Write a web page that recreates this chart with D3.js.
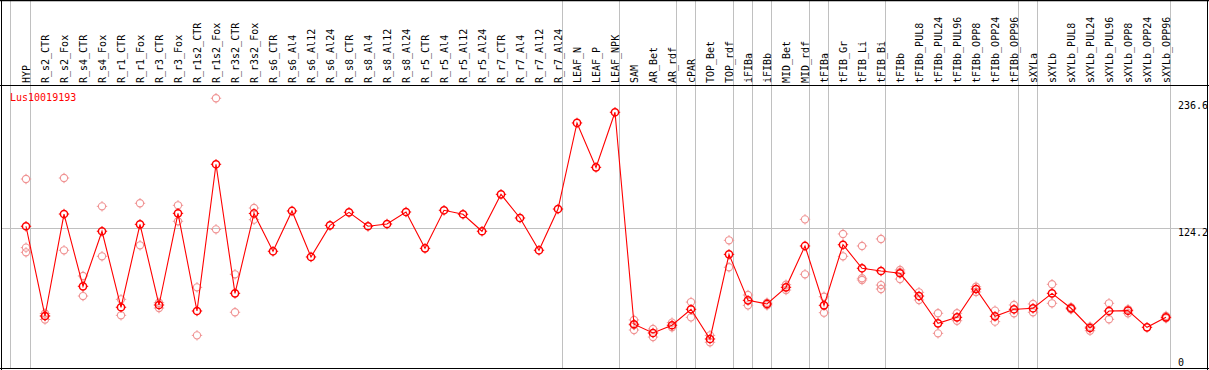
<!DOCTYPE html>
<html>
<head>
<meta charset="utf-8">
<script src="https://cdn.jsdelivr.net/npm/d3@7"></script>
<style>
  html, body { margin: 0; padding: 0; background: #fff; }
  svg { display: block; }
  text { font-family: "DejaVu Sans Mono", "Liberation Mono", monospace; font-size: 10px; }
</style>
</head>
<body>
<svg id="chart" width="1209" height="370"></svg>
<script>
// ---- data ----
const seriesName = "Lus10019193";

const categories = [
  "HYP","R_s2_CTR","R_s2_Fox","R_s4_CTR","R_s4_Fox","R_r1_CTR","R_r1_Fox","R_r3_CTR","R_r3_Fox",
  "R_r1s2_CTR","R_r1s2_Fox","R_r3s2_CTR","R_r3s2_Fox","R_s6_CTR","R_s6_Al4","R_s6_Al12","R_s6_Al24",
  "R_s8_CTR","R_s8_Al4","R_s8_Al12","R_s8_Al24","R_r5_CTR","R_r5_Al4","R_r5_Al12","R_r5_Al24",
  "R_r7_CTR","R_r7_Al4","R_r7_Al12","R_r7_Al24","LEAF_N","LEAF_P","LEAF_NPK","SAM","AR_Bet","AR_rdf",
  "cPAR","TOP_Bet","TOP_rdf","iFIBa","iFIBb","MID_Bet","MID_rdf","tFIBa","tFIB_Gr","tFIB_Li","tFIB_Bi",
  "tFIBb","tFIBb_PUL8","tFIBb_PUL24","tFIBb_PUL96","tFIBb_OPP8","tFIBb_OPP24","tFIBb_OPP96",
  "sXYLa","sXYLb","sXYLb_PUL8","sXYLb_PUL24","sXYLb_PUL96","sXYLb_OPP8","sXYLb_OPP24","sXYLb_OPP96"
];

const meanValues = [
  126.0, 46.8, 136.8, 73.0, 121.6, 54.5, 127.7, 56.5, 137.4,
  51.2, 180.7, 66.8, 137.3, 103.9, 139.5, 98.9, 126.8,
  138.3, 126.0, 128.0, 138.6, 106.5, 140.1, 136.6, 121.6,
  154.2, 133.3, 104.8, 141.2, 217.2, 178.0, 226.6, 39.5, 31.8, 38.6,
  52.7, 26.5, 101.2, 60.6, 57.4, 72.1, 108.6, 56.2, 109.7, 88.9, 86.5,
  84.5, 64.4, 40.3, 45.6, 70.6, 46.5, 52.7,
  53.6, 66.8, 53.6, 36.2, 51.2, 51.5, 36.8, 45.6
];

const replicateValues = [
  [167.7, 107.1, 103.0], [49.0, 46.8, 43.7], [168.6, 104.8], [82.1, 64.4], [143.6, 99.5],
  [61.5, 47.4], [146.3, 109.2], [58.5, 53.8], [144.5, 130.4], [72.1, 29.7],
  [239.0, 123.3], [83.6, 50.1], [142.1, 131.8], [], [], [], [],
  [], [], [], [], [], [], [], [],
  [], [], [], [], [], [], [], [43.3, 38.8, 34.4], [35.3, 28.2], [40.9, 36.8],
  [59.1, 45.6], [29.7, 23.6], [113.6, 89.8], [65.3, 56.2], [58.5, 56.2], [74.4, 69.7], [132.1, 83.6],
  [63.8, 49.7], [119.2, 99.5], [108.6, 80.1, 78.6], [114.8, 74.1, 70.6],
  [87.4, 85.6, 79.4], [67.7, 60.9], [49.2, 31.5], [49.2, 42.6], [72.6, 68.0], [51.5, 41.8], [56.5, 49.2],
  [57.4, 50.1], [74.8, 58.0], [54.5, 52.7], [37.3, 33.8], [58.0, 43.9], [52.7, 49.2], [], [46.8, 44.8]
];

// groups end after these categories (vertical separators)
const groupEnds = ["HYP","R_r7_Al24","LEAF_NPK","AR_rdf","cPAR","TOP_rdf","iFIBa","iFIBb",
  "MID_rdf","tFIBa","tFIB_Bi","tFIBb_OPP96","sXYLa","sXYLb_OPP96"];

const yDomainMax = 248.4;
const yTickValues = [236.6, 124.2, 0];
const gridValue = 124.2;

// ---- layout ----
const W = 1209, H = 370;
const headerBottom = 85.5;
const plotBottom = 368.5;
const svg = d3.select("#chart");

const x = d3.scalePoint().domain(categories).range([26, 1166]);
const y = d3.scaleLinear().domain([0, yDomainMax]).range([369, 87.6]);

const gridGray = "#c0c0c0";
const red = "#ff0000";
const pink = "#f09494";

// vertical group separators
const sepX = [x(categories[0]) - 15.5].concat(groupEnds.map(c => Math.round(x(c) + 4) + 0.5));
svg.append("g").selectAll("line").data(sepX).join("line")
  .attr("x1", d => d).attr("x2", d => d)
  .attr("y1", 0).attr("y2", plotBottom)
  .attr("stroke", gridGray).attr("stroke-width", 1);

// horizontal grid line
svg.append("line")
  .attr("x1", 1).attr("x2", 1208)
  .attr("y1", Math.round(y(gridValue)) + 0.5).attr("y2", Math.round(y(gridValue)) + 0.5)
  .attr("stroke", gridGray).attr("stroke-width", 1);

// frame
const frame = svg.append("g").attr("stroke", "#000").attr("fill", "none");
frame.append("line").attr("x1", 0).attr("x2", 1209).attr("y1", 0.5).attr("y2", 0.5).attr("stroke-width", 1.5);
frame.append("line").attr("x1", 0).attr("x2", 1209).attr("y1", headerBottom).attr("y2", headerBottom);
frame.append("line").attr("x1", 0).attr("x2", 1209).attr("y1", plotBottom).attr("y2", plotBottom);
frame.append("line").attr("x1", 1.5).attr("x2", 1.5).attr("y1", 0).attr("y2", 370);
frame.append("line").attr("x1", 1207.5).attr("x2", 1207.5).attr("y1", 0).attr("y2", 370);

// category labels (rotated)
svg.append("g").selectAll("text").data(categories).join("text")
  .attr("transform", d => `translate(${x(d) + 3.5},83) rotate(-90)`)
  .attr("text-anchor", "start")
  .attr("fill", "#000")
  .text(d => d);

// y tick labels on right
svg.append("g").selectAll("text").data(yTickValues).join("text")
  .attr("x", 1178)
  .attr("y", d => Math.min(y(d) + 8, 366))
  .attr("fill", "#000")
  .text(d => d === 0 ? "0" : d.toFixed(1));

// series name
svg.append("text").attr("x", 10).attr("y", 100.5).attr("fill", red).text(seriesName);

// marker helper: circle with little ticks
function marker(g, cx, cy, color, sw, r) {
  g.append("circle").attr("cx", cx).attr("cy", cy).attr("r", r)
    .attr("fill", "none").attr("stroke", color).attr("stroke-width", sw);
  const t1 = r, t2 = r + 1.6;
  g.append("path")
    .attr("d", `M${cx},${cy - t1}V${cy - t2}M${cx},${cy + t1}V${cy + t2}M${cx - t1},${cy}H${cx - t2}M${cx + t1},${cy}H${cx + t2}`)
    .attr("stroke", color).attr("stroke-width", 1).attr("fill", "none");
}

// replicates
const repG = svg.append("g");
categories.forEach((c, i) => {
  replicateValues[i].forEach(v => marker(repG, x(c), y(v), pink, 1.1, 3.6));
});

// mean line
const line = d3.line().x((d, i) => x(categories[i])).y(d => y(d));
svg.append("path").datum(meanValues)
  .attr("d", line).attr("fill", "none").attr("stroke", red).attr("stroke-width", 1.1);

// mean markers
const meanG = svg.append("g");
categories.forEach((c, i) => marker(meanG, x(c), y(meanValues[i]), red, 1.5, 3.6));
</script>
</body>
</html>
